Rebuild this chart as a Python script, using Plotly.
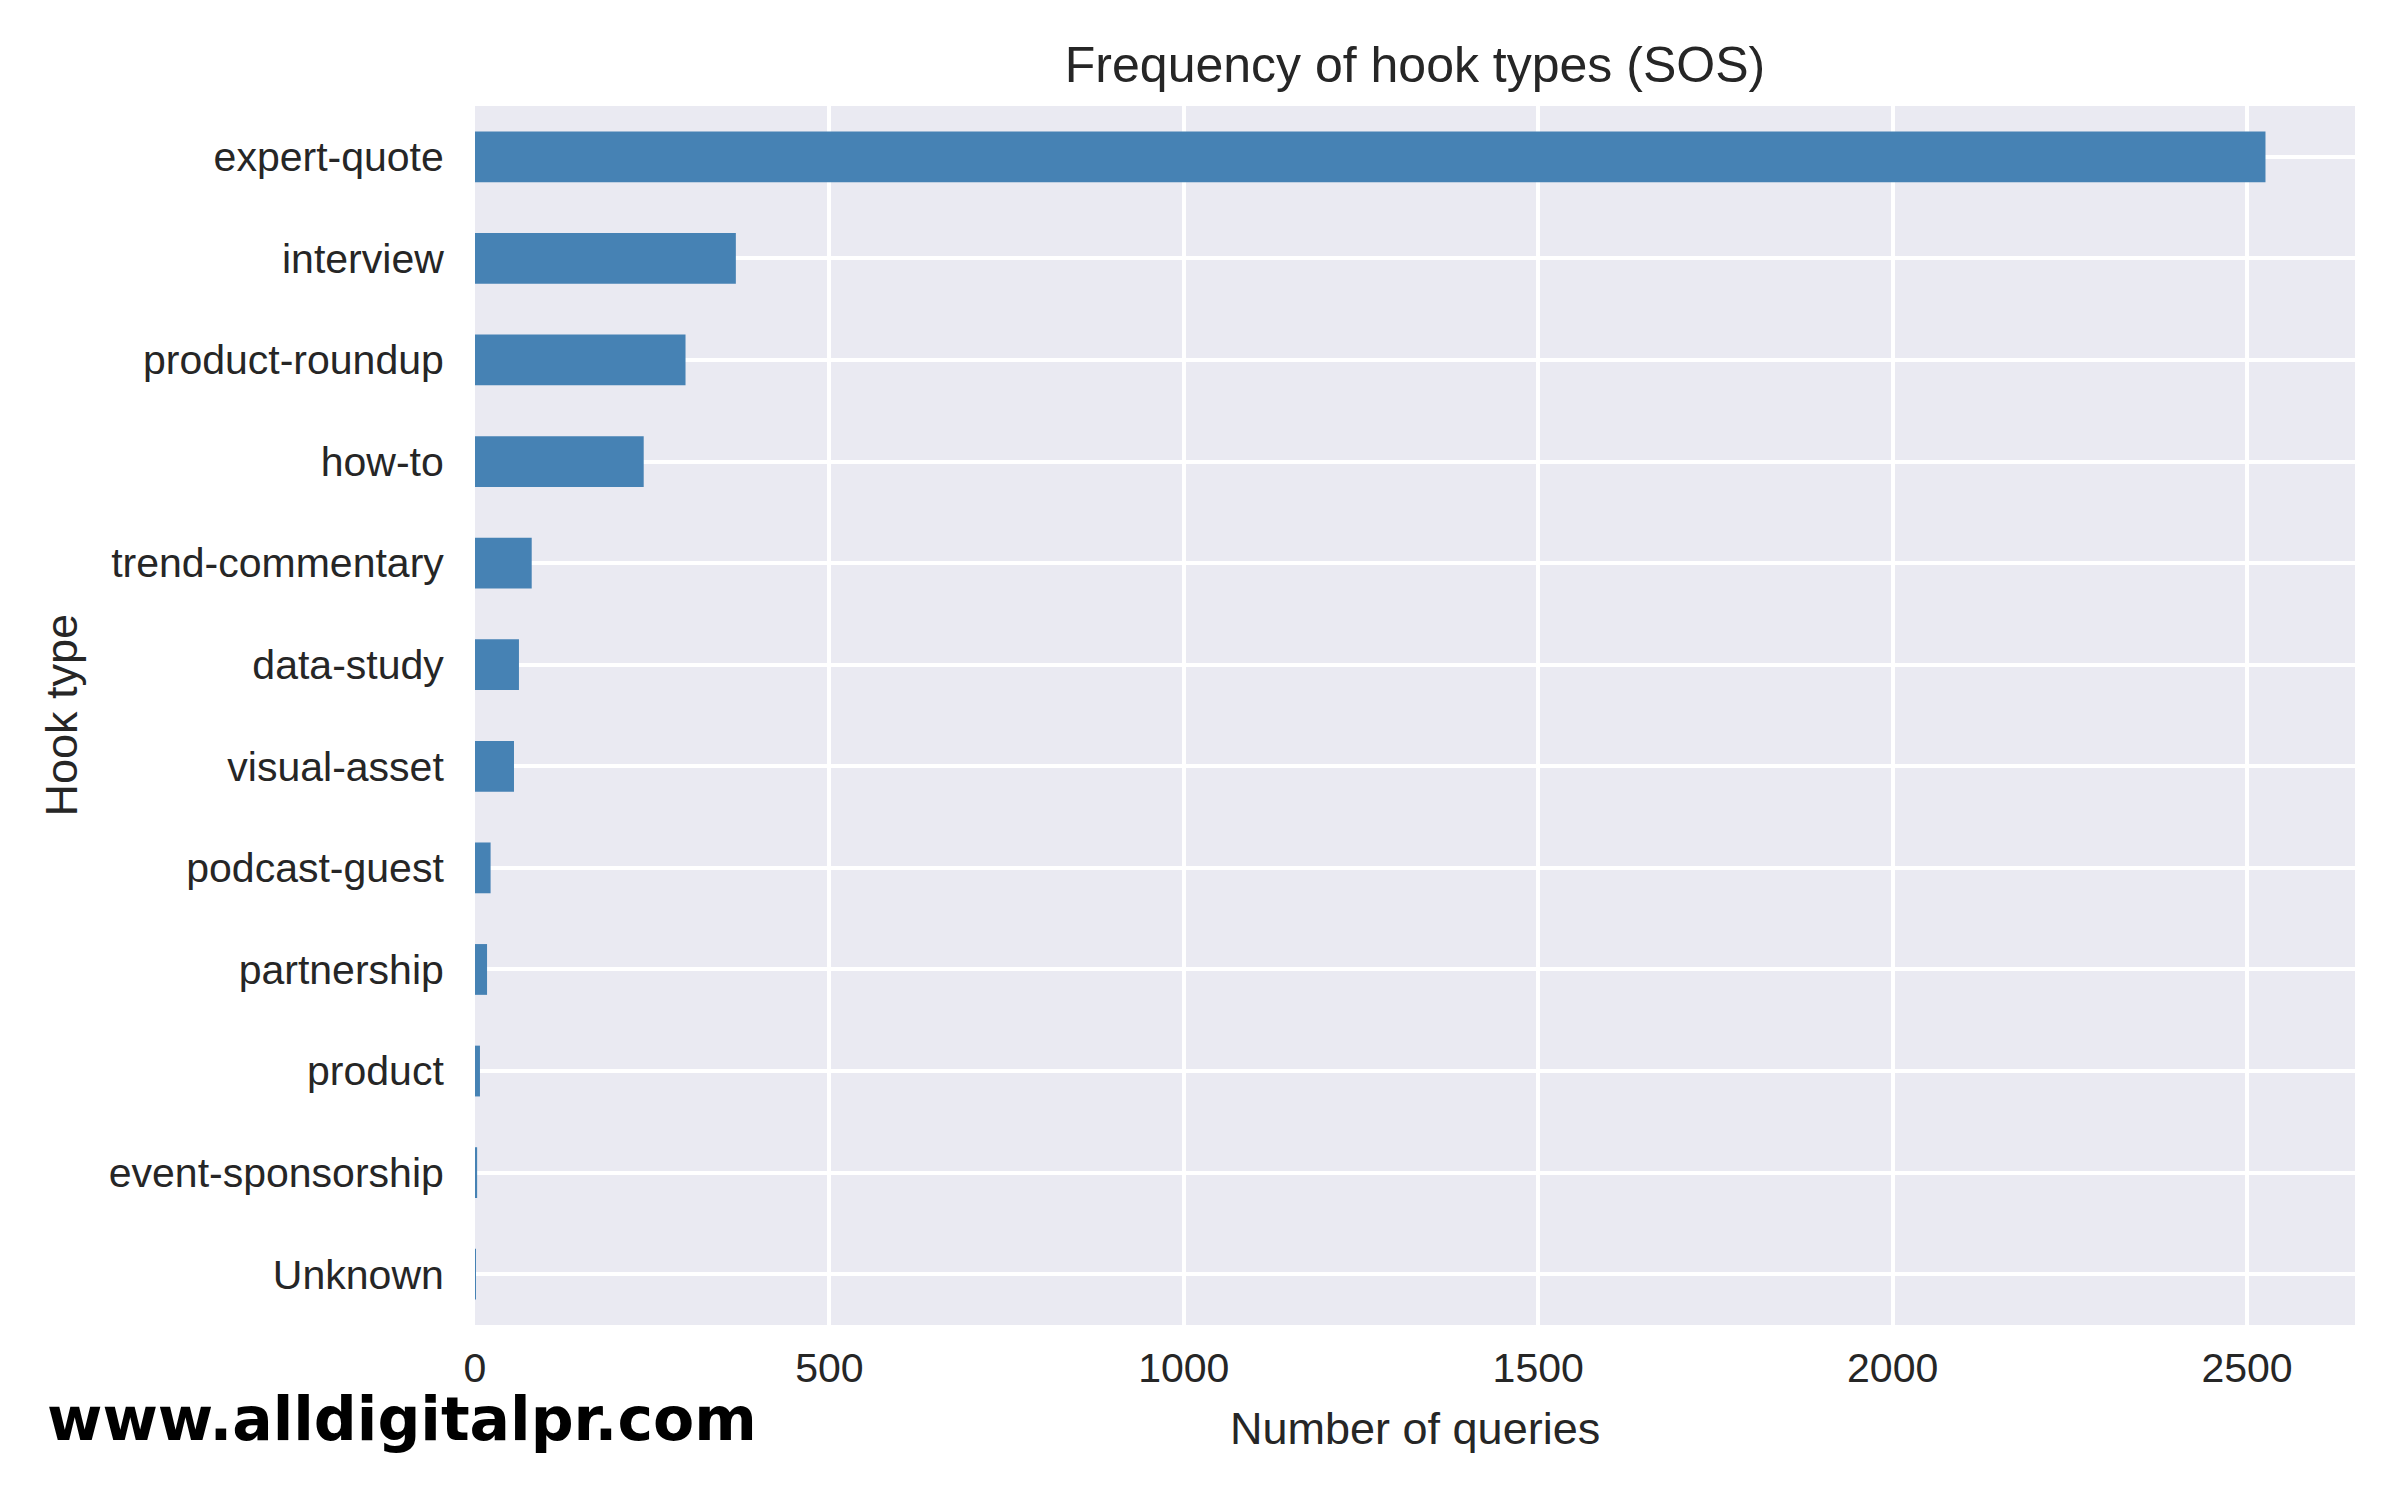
import plotly.graph_objects as go

# data (top to bottom)
hook_types = [
    "expert-quote", "interview", "product-roundup", "how-to",
    "trend-commentary", "data-study", "visual-asset", "podcast-guest",
    "partnership", "product", "event-sponsorship", "Unknown",
]
query_counts = [2526, 368, 297, 238, 80, 62, 55, 22, 17, 7, 3, 1]
x_tick_vals = [0, 500, 1000, 1500, 2000, 2500]

# the page puts the figure 8px in from the window corner, so work in
# window pixels and subtract that offset
OFF = 8
W, H = 2400 - OFF, 1500 - 2 * OFF
plot_left, plot_right = 475 - OFF, 2355 - OFF
plot_top, plot_bottom = 106 - OFF, 1325 - OFF
plot_w = plot_right - plot_left
plot_h = plot_bottom - plot_top

text_font = "Liberation Sans, Arial, sans-serif"
text_color = "#262626"


def px_to_paper_x(px):
    return (px - OFF - plot_left) / plot_w


def px_to_paper_y(py):
    return (plot_bottom - (py - OFF)) / plot_h


fig = go.Figure()
fig.add_trace(go.Bar(
    x=query_counts[::-1],
    y=hook_types[::-1],
    orientation="h",
    width=0.5,
    marker=dict(color="#4682B4", line=dict(width=0)),
    showlegend=False,
))

fig.update_layout(
    width=W, height=H,
    margin=dict(l=plot_left, r=W - plot_right, t=plot_top, b=H - plot_bottom, pad=0),
    paper_bgcolor="white",
    plot_bgcolor="#EAEAF2",
    font=dict(family=text_font, color=text_color, size=41),
    title=dict(
        text="Frequency of hook types (SOS)",
        font=dict(family=text_font, size=50, color=text_color),
        x=0.5, xref="paper", xanchor="center",
        y=1 - (64 - OFF) / H, yref="container", yanchor="middle",
    ),
    bargap=0.5,
)

max_val = max(query_counts)
fig.update_xaxes(
    range=[0, max_val * 1.05],
    tickvals=x_tick_vals,
    ticktext=[str(v) for v in x_tick_vals],
    showgrid=True, gridcolor="white", gridwidth=4,
    zeroline=False, showline=False,
    ticks="outside", ticklen=7, tickcolor="rgba(0,0,0,0)",
    tickfont=dict(size=41, color=text_color, family=text_font),
)
fig.update_yaxes(
    categoryorder="array", categoryarray=hook_types[::-1],
    range=[-0.5, len(hook_types) - 0.5],
    showgrid=True, gridcolor="white", gridwidth=4,
    zeroline=False, showline=False,
    ticks="outside", ticklen=22, tickcolor="rgba(0,0,0,0)",
    tickfont=dict(size=41, color=text_color, family=text_font),
)

# axis titles and watermark
fig.add_annotation(
    text="Number of queries", xref="paper", yref="paper",
    x=0.5, y=px_to_paper_y(1428), xanchor="center", yanchor="middle",
    showarrow=False, font=dict(size=45, color=text_color, family=text_font),
)
fig.add_annotation(
    text="Hook type", xref="paper", yref="paper",
    x=px_to_paper_x(61), y=0.5, xanchor="center", yanchor="middle",
    textangle=-90,
    showarrow=False, font=dict(size=45, color=text_color, family=text_font),
)
fig.add_annotation(
    text="<b>www.alldigitalpr.com</b>", xref="paper", yref="paper",
    x=px_to_paper_x(45), y=px_to_paper_y(1419), xanchor="left", yanchor="middle",
    showarrow=False, font=dict(size=60, color="black", family="DejaVu Sans"),
)

fig.write_html("out.html")
